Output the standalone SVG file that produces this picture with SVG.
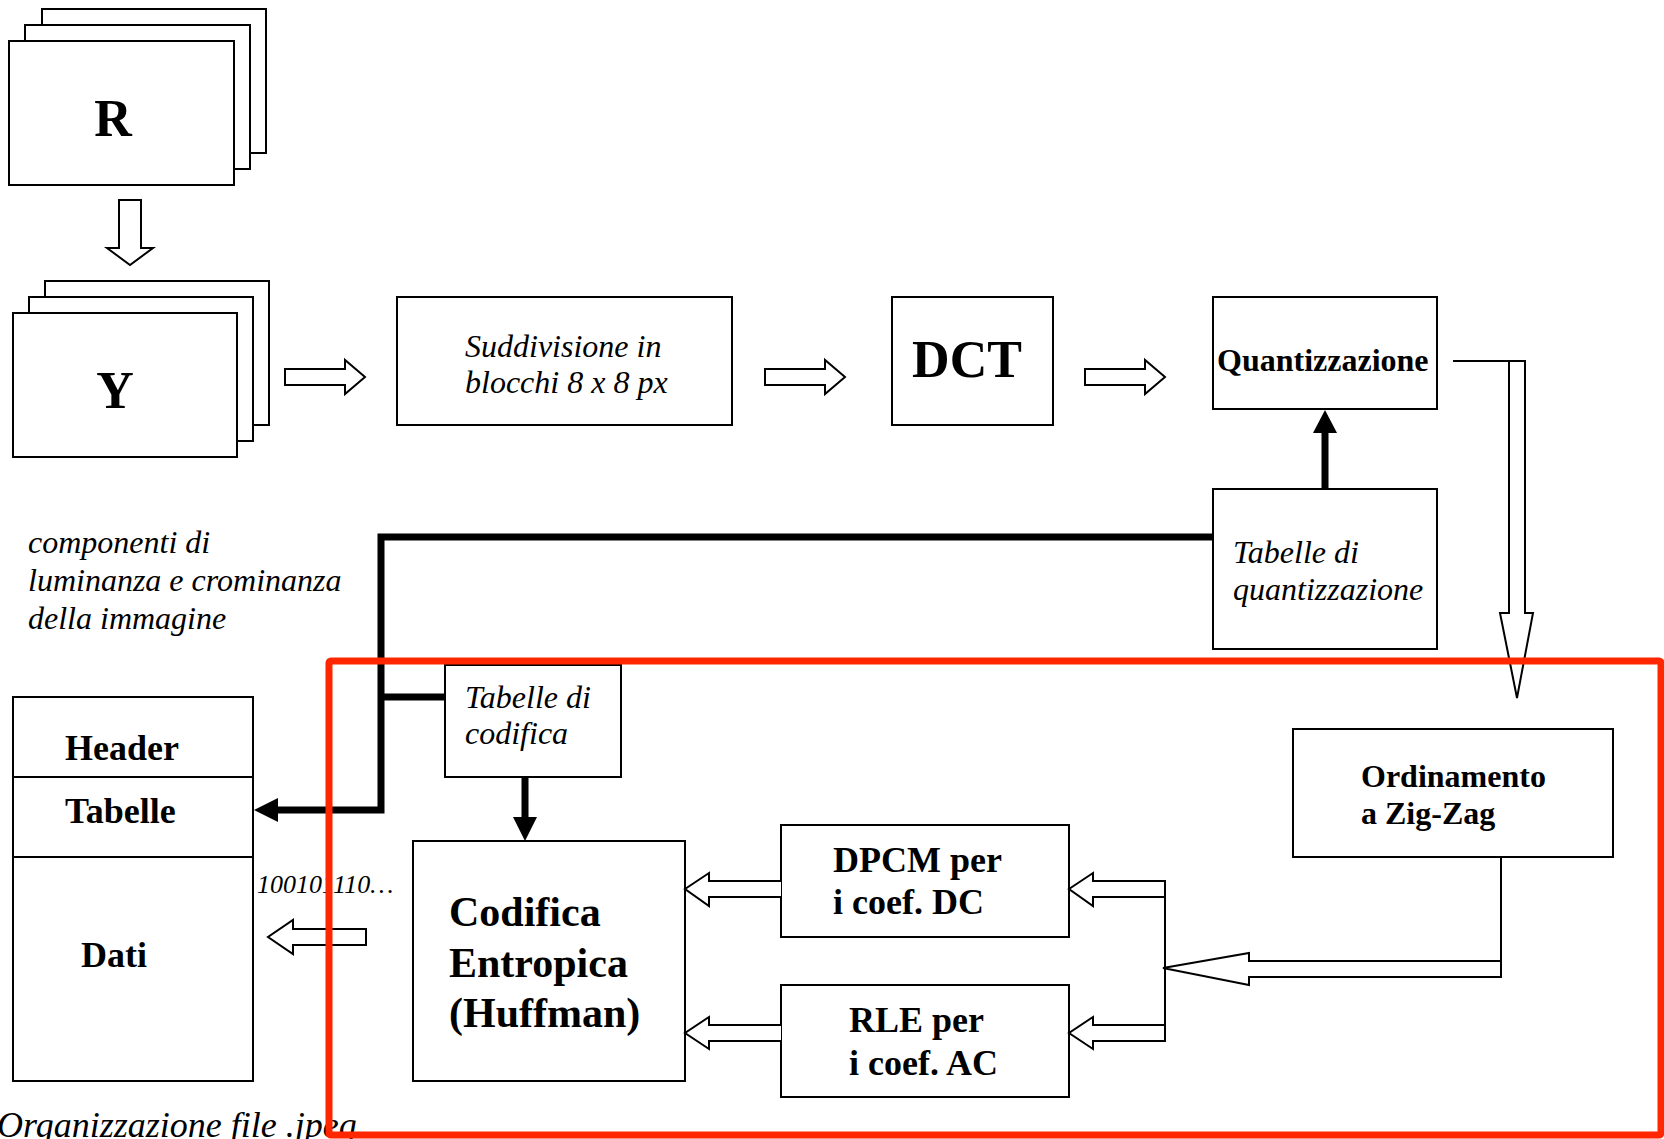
<svg xmlns="http://www.w3.org/2000/svg" width="1664" height="1139" viewBox="0 0 1664 1139">
<style>
.box{fill:#fff;stroke:#000;stroke-width:2}
.ho{fill:#fff;stroke:#000;stroke-width:2;stroke-linejoin:miter}
.hn{fill:none;stroke:#000;stroke-width:2;stroke-linejoin:miter}
.thick{fill:none;stroke:#000;stroke-width:7;stroke-linejoin:miter}
.head{fill:#000}
.b{font-family:"Liberation Serif","Times New Roman",serif;font-weight:bold;fill:#000}
.i{font-family:"Liberation Serif","Times New Roman",serif;font-style:italic;fill:#000}
.red{fill:none;stroke:#ff2600;stroke-width:7}
</style>
<rect width="1664" height="1139" fill="#fff"/>

<g id="node-R">
<rect class="box" x="42" y="9" width="224" height="144"/>
<rect class="box" x="25" y="25" width="225" height="144"/>
<rect class="box" x="9" y="41" width="225" height="144"/>
<text class="b" x="113" y="136" font-size="52" text-anchor="middle">R</text>
</g>
<g id="node-Y">
<rect class="box" x="45" y="281" width="224" height="144"/>
<rect class="box" x="29" y="297" width="224" height="144"/>
<rect class="box" x="13" y="313" width="224" height="144"/>
<text class="b" x="115" y="408" font-size="52" text-anchor="middle">Y</text>
</g>
<g id="node-suddivisione">
<rect class="box" x="397" y="297" width="335" height="128"/>
<text class="i" x="465" y="357" font-size="32">Suddivisione in</text>
<text class="i" x="465" y="393" font-size="32">blocchi 8 x 8 px</text>
</g>
<g id="node-dct">
<rect class="box" x="892" y="297" width="161" height="128"/>
<text class="b" x="967" y="377" font-size="52" text-anchor="middle">DCT</text>
</g>
<g id="node-quant">
<rect class="box" x="1213" y="297" width="224" height="112"/>
<text class="b" x="1217" y="371" font-size="32">Quantizzazione</text>
</g>
<g id="node-tabquant">
<rect class="box" x="1213" y="489" width="224" height="160"/>
<text class="i" x="1233" y="563" font-size="32">Tabelle di</text>
<text class="i" x="1233" y="600" font-size="32">quantizzazione</text>
</g>
<g id="node-caption-components">
<text class="i" x="28" y="553" font-size="32">componenti di</text>
<text class="i" x="28" y="591" font-size="32">luminanza e crominanza</text>
<text class="i" x="28" y="629" font-size="32">della immagine</text>
</g>
<g id="node-file">
<rect class="box" x="13" y="697" width="240" height="384"/>
<line x1="13" y1="777" x2="253" y2="777" stroke="#000" stroke-width="2"/>
<line x1="13" y1="857" x2="253" y2="857" stroke="#000" stroke-width="2"/>
<text class="b" x="65" y="760" font-size="36">Header</text>
<text class="b" x="65" y="823" font-size="36">Tabelle</text>
<text class="b" x="81" y="967" font-size="36">Dati</text>
</g>
<g id="node-caption-file">
<text class="i" x="-3" y="1137" font-size="36">Organizzazione file .jpeg</text>
</g>
<g id="node-tabcod">
<rect class="box" x="445" y="665" width="176" height="112"/>
<text class="i" x="465" y="708" font-size="32">Tabelle di</text>
<text class="i" x="465" y="744" font-size="32">codifica</text>
</g>
<g id="node-codifica">
<rect class="box" x="413" y="841" width="272" height="240"/>
<text class="b" x="449" y="926" font-size="42">Codifica</text>
<text class="b" x="449" y="977" font-size="42">Entropica</text>
<text class="b" x="449" y="1027" font-size="42">(Huffman)</text>
</g>
<g id="node-dpcm">
<rect class="box" x="781" y="825" width="288" height="112"/>
<text class="b" x="833" y="872" font-size="36">DPCM per</text>
<text class="b" x="833" y="914" font-size="36">i coef. DC</text>
</g>
<g id="node-rle">
<rect class="box" x="781" y="985" width="288" height="112"/>
<text class="b" x="849" y="1032" font-size="36">RLE per</text>
<text class="b" x="849" y="1075" font-size="36">i coef. AC</text>
</g>
<g id="node-zigzag">
<rect class="box" x="1293" y="729" width="320" height="128"/>
<text class="b" x="1361" y="787" font-size="32">Ordinamento</text>
<text class="b" x="1361" y="824" font-size="32">a Zig-Zag</text>
</g>
<g id="label-bits">
<text class="i" x="257" y="893" font-size="26">100101110…</text>
</g>

<g id="connectors">
<polygon class="ho" points="119,200 141,200 141,248 153,248 130,265 107,248 119,248"/>
<polygon class="ho" points="285,369 345,369 345,360 365,377 345,394 345,385 285,385"/>
<polygon class="ho" points="765,369 825,369 825,360 845,377 825,394 825,385 765,385"/>
<polygon class="ho" points="1085,369 1145,369 1145,360 1165,377 1145,394 1145,385 1085,385"/>
<path class="hn" d="M1453,361 H1525 V613 H1533 L1517,698 L1500,613 H1509 V361"/>
<path class="hn" d="M1501,857 V977 H1249 V985 L1163,968 L1249,953 V961 H1501"/>
<line x1="1165" y1="880" x2="1165" y2="1042" stroke="#000" stroke-width="2"/>
<path class="hn" d="M1165,881 H1093 V873 L1069,889 L1093,906 V897 H1165"/>
<path class="hn" d="M1165,1025 H1093 V1017 L1069,1033 L1093,1049 V1041 H1165"/>
<path class="ho" d="M781,881 H709 V873 L685,889 L709,906 V897 H781"/>
<path class="ho" d="M781,1025 H709 V1017 L685,1033 L709,1049 V1041 H781"/>
<polygon class="ho" points="366,929 293,929 293,920 268,937 293,954 293,945 366,945"/>
<line class="thick" x1="1325" y1="489" x2="1325" y2="431"/>
<polygon class="head" points="1313,433 1337,433 1325,410"/>
<polyline class="thick" points="1213,537 381,537 381,810 276,810"/>
<polygon class="head" points="278,798 278,822 254,810"/>
<line class="thick" x1="381" y1="697" x2="445" y2="697"/>
<line class="thick" x1="525" y1="777" x2="525" y2="819"/>
<polygon class="head" points="513,817 537,817 525,841"/>
</g>

<g id="highlight">
<rect class="red" x="329" y="661" width="1332" height="474" rx="2"/>
</g>
</svg>
